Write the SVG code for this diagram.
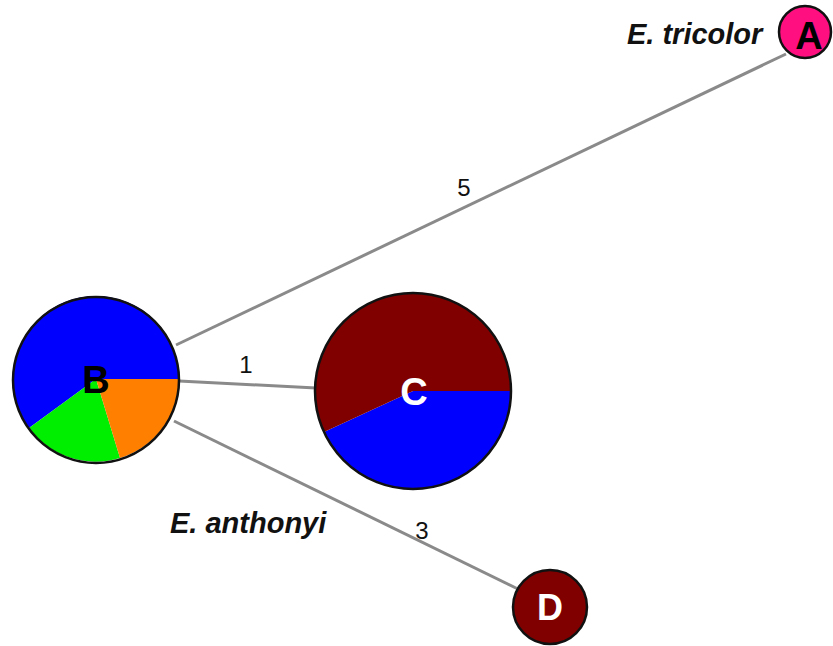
<svg xmlns="http://www.w3.org/2000/svg" width="833" height="646" viewBox="0 0 833 646">
<style>
.edge{stroke:#8a8a8a;stroke-width:3;fill:none}
.rim{fill:none;stroke:#111;stroke-width:2.5}
.lbl{font-family:"Liberation Sans",Arial,sans-serif;font-weight:bold;text-anchor:middle}
.num{font-family:"Liberation Sans",Arial,sans-serif;font-size:24px;text-anchor:middle;fill:#111}
.sp{font-family:"Liberation Sans",Arial,sans-serif;font-size:29px;font-weight:bold;font-style:italic;fill:#111}
</style>
<rect width="833" height="646" fill="#fff"/>
<g id="connectors">
<line class="edge" x1="176" y1="345" x2="786" y2="54"/>
<line class="edge" x1="179" y1="381" x2="316" y2="388"/>
<line class="edge" x1="174" y1="421" x2="520" y2="590"/>
<text class="num" x="464" y="196">5</text>
<text class="num" x="246" y="373">1</text>
<text class="num" x="422" y="539">3</text>
</g>
<g id="node-B">
<path d="M96,379 L179,379 A83,83 0 1 0 29,428 Z" fill="#0000ff"/>
<path d="M96,379 L29,428 A83,83 0 0 0 120,458 Z" fill="#00ee00"/>
<path d="M96,379 L120,458 A83,83 0 0 0 179,379 Z" fill="#ff8000"/>
<circle class="rim" cx="96" cy="380" r="83"/>
<text class="lbl" x="96" y="393" font-size="38" fill="#000">B</text>
</g>
<g id="node-C">
<path d="M413,391 L511,391 A98,98 0 0 1 324,432 Z" fill="#0000ff"/>
<path d="M413,391 L324,432 A98,98 0 1 1 511,391 Z" fill="#800000"/>
<circle class="rim" cx="413" cy="391" r="98"/>
<text class="lbl" x="414" y="405" font-size="38" fill="#fff">C</text>
</g>
<g id="node-A">
<circle cx="805" cy="32" r="26" fill="#ff0f80" stroke="#111" stroke-width="2.5"/>
<text class="lbl" x="809" y="49" font-size="38" fill="#000">A</text>
<text class="sp" x="627" y="44">E. tricolor</text>
</g>
<g id="node-D">
<circle cx="550" cy="607" r="37" fill="#800000" stroke="#111" stroke-width="2.5"/>
<text class="lbl" x="550" y="620" font-size="36" fill="#fff">D</text>
</g>
<text class="sp" x="170" y="533">E. anthonyi</text>
</svg>
